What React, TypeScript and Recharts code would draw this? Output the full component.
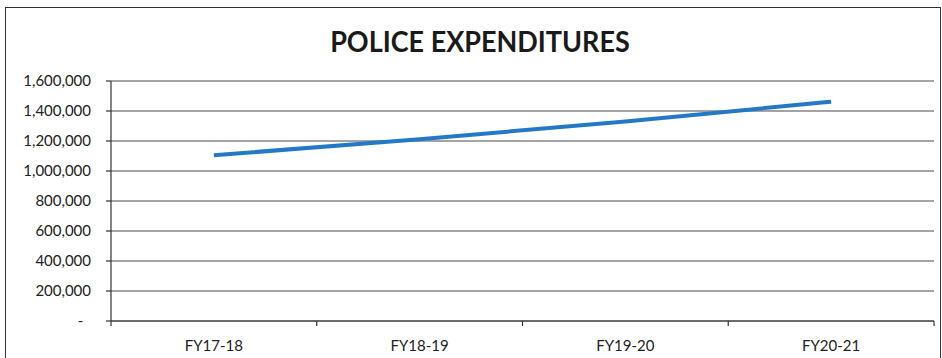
import { LineChart, Line, XAxis, YAxis, CartesianGrid } from 'recharts';

const categories = ['FY17-18', 'FY18-19', 'FY19-20', 'FY20-21'];
const expenditures = [1105000, 1212000, 1330000, 1462000];
const yTicks = [0, 200000, 400000, 600000, 800000, 1000000, 1200000, 1400000, 1600000];
// category centres and the boundaries between them
const xTicks = [-0.5, 0, 0.5, 1, 1.5, 2, 2.5, 3, 3.5];

const data = categories.map((name, idx) => ({ idx, name, value: expenditures[idx] }));

const FONT = 'Lato, "Open Sans", sans-serif';
const INK = '#333';
const TICK_SIZE = 5;
const TICK_MARGIN = 14;

function formatY(v: number) {
    return v === 0 ? '-\u00a0\u00a0' : v.toLocaleString('en-US');
}

function XTick(props: any) {
    const { x, y, payload } = props;
    const v = payload.value;
    if (Number.isInteger(v)) {
        return (
            <text x={x} y={y} dy="0.71em" textAnchor="middle" fontSize={15} fill="#222" fontFamily={FONT}>
                {categories[v]}
            </text>
        );
    }
    const axisY = y - TICK_SIZE - TICK_MARGIN;
    return <line x1={x} x2={x} y1={axisY} y2={axisY + TICK_SIZE} stroke={INK} strokeWidth={1.2} />;
}

export default function App() {
    return (
        <div style={{ position: 'absolute', left: 0, top: 0, width: 942, height: 358, overflow: 'hidden', background: '#fff', fontFamily: FONT }}>
            <div style={{ position: 'absolute', left: 5, top: 7, width: 934, height: 400, border: '1.5px solid #333' }} />
            <div style={{ position: 'absolute', left: 0, top: 27, width: 960, textAlign: 'center', fontSize: 27, fontWeight: 700, lineHeight: 1, color: '#1a1a1a', transform: 'scaleY(1.08)' }}>
                POLICE EXPENDITURES
            </div>
            <div style={{ position: 'absolute', left: 0, top: 0 }}>
                <LineChart width={942} height={358} data={data} margin={{ top: 81, right: 8, left: 0, bottom: 0 }}>
                    <CartesianGrid vertical={false} stroke="#4a4a4a" strokeWidth={1.2} />
                    <XAxis
                        dataKey="idx"
                        type="number"
                        domain={[-0.5, 3.5]}
                        ticks={xTicks}
                        interval={0}
                        tick={<XTick />}
                        tickLine={false}
                        tickSize={TICK_SIZE}
                        tickMargin={TICK_MARGIN}
                        axisLine={{ stroke: INK, strokeWidth: 1.2 }}
                        height={37}
                    />
                    <YAxis
                        domain={[0, 1600000]}
                        ticks={yTicks}
                        tickFormatter={formatY}
                        tick={{ fontSize: 15, fill: '#222', fontFamily: FONT }}
                        tickSize={5}
                        tickMargin={15}
                        tickLine={{ stroke: INK, strokeWidth: 1.2 }}
                        axisLine={{ stroke: INK, strokeWidth: 1.2 }}
                        width={111}
                    />
                    <Line
                        type="monotone"
                        dataKey="value"
                        stroke="#2479c7"
                        strokeWidth={4}
                        dot={false}
                        isAnimationActive={false}
                    />
                </LineChart>
            </div>
        </div>
    );
}
